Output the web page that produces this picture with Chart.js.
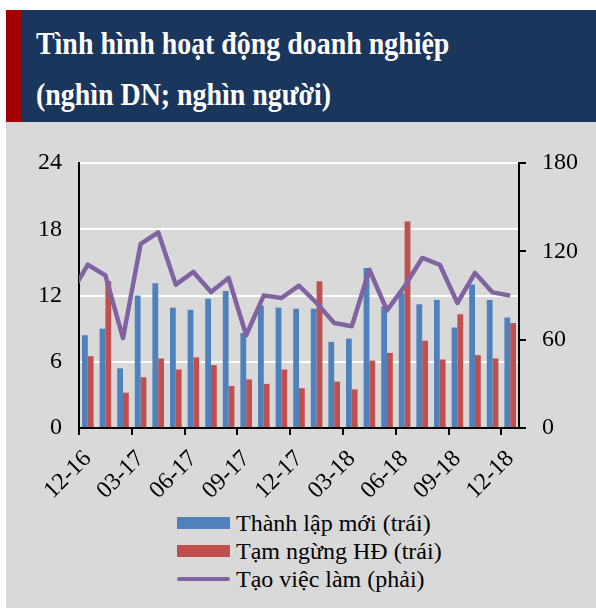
<!DOCTYPE html>
<html>
<head>
<meta charset="utf-8">
<script src="https://cdn.jsdelivr.net/npm/chart.js@4.4.1/dist/chart.umd.min.js"></script>
<style>
  body { margin: 0; background: #fff; }
  #wrap { position: relative; width: 596px; height: 608px; background: #fff; overflow: hidden; }
  #title { position: absolute; left: 6px; top: 10px; width: 590px; height: 112px; background: #1b365d; }
  #stripe { position: absolute; left: 0; top: 0; width: 16px; height: 112px; background: #a30000; }
  #titleText { position: absolute; left: 30px; top: 8px; color: #fff; font: bold 32px "Liberation Serif", serif; line-height: 51px;
    white-space: nowrap; transform: scaleX(0.872); transform-origin: 0 0; }
  #panel { position: absolute; left: 6px; top: 122px; width: 590px; height: 486px; background: #d9d9d9; }
  #c { position: absolute; left: 0; top: 0; }
  #legend { position: absolute; left: 171px; top: 387px; font: 24px "Liberation Serif", serif; color: #000; }
  .row { height: 28px; display: flex; align-items: center; }
  .sw { width: 53px; margin-right: 6px; }
</style>
</head>
<body>
<div id="wrap">
  <div id="title"><div id="stripe"></div>
    <div id="titleText">Tình hình hoạt động doanh nghiệp<br>(nghìn DN; nghìn người)</div>
  </div>
  <div id="panel">
    <canvas id="c" width="590" height="383"></canvas>
    <div id="legend"></div>
  </div>
</div>
<script>
// 11-16 is only there for the start of the line, the axis begins at 12-16
var months = ['11-16','12-16','01-17','02-17','03-17','04-17','05-17','06-17','07-17','08-17','09-17','10-17','11-17',
  '12-17','01-18','02-18','03-18','04-18','05-18','06-18','07-18','08-18','09-18','10-18','11-18','12-18'];

// nghìn DN (trục trái)
var thanhLapMoi = [null, 8.4, 9.0, 5.4, 12.0, 13.1, 10.9, 10.7, 11.7, 12.4, 8.6, 11.1, 10.9,
  10.8, 10.8, 7.8, 8.1, 14.5, 11.0, 12.2, 11.2, 11.6, 9.1, 13.0, 11.6, 10.0];
var tamNgung = [null, 6.5, 13.3, 3.2, 4.6, 6.3, 5.3, 6.4, 5.7, 3.8, 4.4, 4.0, 5.3,
  3.6, 13.3, 4.2, 3.5, 6.1, 6.8, 18.7, 7.9, 6.2, 10.3, 6.6, 6.3, 9.5];

// nghìn người (trục phải)
var viecLam = [90.5, 110.9, 103.7, 61.1, 125.0, 132.9, 97.4, 106.0, 92.4, 101.9, 63.0, 90.1, 88.3,
  96.7, 84.9, 71.3, 69.1, 107.5, 79.9, 96.2, 115.5, 110.9, 84.9, 105.3, 92.1, 89.9];

var leftTicks = [0, 6, 12, 18, 24];
var rightTicks = [0, 60, 120, 180];

var tickFont = { family: '"Liberation Serif", serif', size: 24 };

var chart = new Chart(document.getElementById('c'), {
  type: 'bar',
  data: {
    labels: months,
    datasets: [{
      label: 'Thành lập mới (trái)',
      data: thanhLapMoi,
      backgroundColor: '#4f81bd',
      yAxisID: 'y',
      order: 1,
      categoryPercentage: 0.66,
      barPercentage: 1.0
    }, {
      label: 'Tạm ngừng HĐ (trái)',
      data: tamNgung,
      backgroundColor: '#c0504d',
      yAxisID: 'y',
      order: 2,
      categoryPercentage: 0.66,
      barPercentage: 1.0
    }, {
      type: 'line',
      label: 'Tạo việc làm (phải)',
      data: viecLam,
      borderColor: '#8064a2',
      backgroundColor: '#8064a2',
      borderWidth: 4.5,
      pointRadius: 0,
      tension: 0,
      borderJoinStyle: 'round',
      borderCapStyle: 'butt',
      clip: 0,
      yAxisID: 'y2',
      order: 0
    }]
  },
  options: {
    responsive: false,
    animation: false,
    layout: { padding: { top: 41, left: 0, right: 0, bottom: 0 } },
    plugins: { legend: { display: false }, tooltip: { enabled: false } },
    scales: {
      x: {
        type: 'category',
        min: '12-16',
        offset: true,
        afterFit: function(s) { s.height = 77; },
        border: { color: '#000', width: 2 },
        grid: {
          offset: true,
          drawOnChartArea: false,
          tickLength: 7,
          lineWidth: 2,
          color: function(ctx) { return ctx.index % 3 === 0 ? '#000' : 'rgba(0,0,0,0)'; }
        },
        ticks: {
          autoSkip: false,
          maxRotation: 45,
          minRotation: 45,
          padding: 10,
          color: '#000',
          font: tickFont,
          callback: function(v, i) { return i % 3 === 0 ? this.getLabelForValue(v) : ''; }
        }
      },
      y: {
        position: 'left',
        min: 0,
        max: 24,
        afterFit: function(s) { s.width = 73; },
        afterBuildTicks: function(s) { s.ticks = leftTicks.map(function(v) { return { value: v }; }); },
        border: { color: '#000', width: 2 },
        grid: {
          drawTicks: false,
          lineWidth: 2,
          color: function(ctx) { return ctx.tick && ctx.tick.value === 0 ? 'rgba(0,0,0,0)' : '#ffffff'; }
        },
        ticks: { padding: 17, color: '#000', font: tickFont }
      },
      y2: {
        position: 'right',
        min: 0,
        max: 180,
        afterFit: function(s) { s.width = 77; },
        afterBuildTicks: function(s) { s.ticks = rightTicks.map(function(v) { return { value: v }; }); },
        border: { color: '#000', width: 2 },
        grid: {
          drawOnChartArea: false,
          drawTicks: true,
          tickLength: 7,
          lineWidth: 2,
          color: '#000'
        },
        ticks: { padding: 16, color: '#000', font: tickFont }
      }
    }
  }
});

// legend: one item per row like the original
var legendDiv = document.getElementById('legend');
chart.data.datasets.forEach(function(ds) {
  var row = document.createElement('div');
  row.className = 'row';
  var sw = document.createElement('div');
  sw.className = 'sw';
  if (ds.type === 'line') {
    sw.style.height = '4px';
    sw.style.borderRadius = '2px';
  } else {
    sw.style.height = '12px';
  }
  sw.style.background = ds.backgroundColor;
  var txt = document.createElement('span');
  txt.textContent = ds.label;
  row.appendChild(sw);
  row.appendChild(txt);
  legendDiv.appendChild(row);
});
</script>
</body>
</html>
